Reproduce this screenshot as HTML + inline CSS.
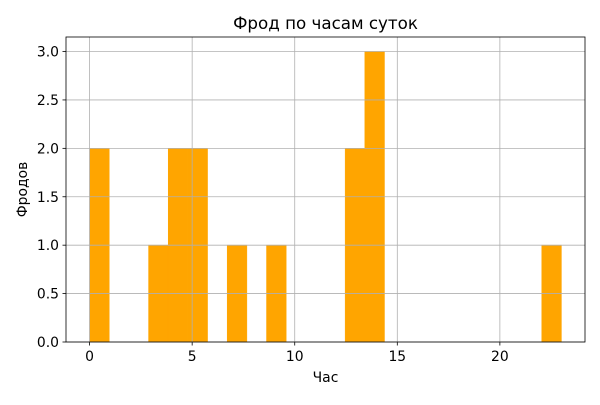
<!DOCTYPE html>
<html><head><meta charset="utf-8"><style>
body{margin:0;background:#fff;font-family:"Liberation Sans","DejaVu Sans",sans-serif;}
text{font-family:"DejaVu Sans","Liberation Sans",sans-serif;}
</style></head><body>
<svg id="c" width="600" height="400"></svg>
<script>
const binCounts=[2,0,0,1,2,2,0,1,0,1,0,0,0,2,3,0,0,0,0,0,0,0,0,1];
const dataMin=0, dataMax=23;
const xTicks=[0,5,10,15,20];
const yTicks=[0,0.5,1,1.5,2,2.5,3];
const yTickLabels=["0.0","0.5","1.0","1.5","2.0","2.5","3.0"];
const ns="http://www.w3.org/2000/svg";
const svg=document.getElementById('c');
const L=66,R=585,T=37,B=342;
const xmin=-1.15,xmax=24.15,ymax=3.15;
const X=v=>L+(v-xmin)/(xmax-xmin)*(R-L);
const Y=v=>B-v/ymax*(B-T);
function el(t,a,txt){const e=document.createElementNS(ns,t);for(const k in a)e.setAttribute(k,a[k]);if(txt!==undefined)e.textContent=txt;svg.appendChild(e);return e;}
const w=(dataMax-dataMin)/binCounts.length;
binCounts.forEach((c,i)=>{if(!c)return;
 const r=el('rect',{x:X(dataMin+i*w),y:Y(c),width:X(dataMin+(i+1)*w)-X(dataMin+i*w),height:B-Y(c),fill:'#ffa500',stroke:'#ffa500','stroke-width':0.5});
 
 
});
xTicks.forEach(t=>{
 const g=el('line',{x1:X(t),x2:X(t),y1:T,y2:B,stroke:'#b0b0b0','stroke-width':0.8});
 
 
 el('line',{x1:X(t),x2:X(t),y1:B,y2:B+3.5,stroke:'#000','stroke-width':0.8});
 const tx=el('text',{x:X(t),y:B+19,'font-size':13.9,'text-anchor':'middle'},String(t));
 
 
});
yTicks.forEach((t,i)=>{
 const g=el('line',{x1:L,x2:R,y1:Y(t),y2:Y(t),stroke:'#b0b0b0','stroke-width':0.8});
 
 
 el('line',{x1:L-3.5,x2:L,y1:Y(t),y2:Y(t),stroke:'#000','stroke-width':0.8});
 const tx=el('text',{x:L-7,y:Y(t)+5,'font-size':13.9,'text-anchor':'end'},yTickLabels[i]);
 
 
});
const f=el('rect',{x:L,y:T,width:R-L,height:B-T,fill:'none',stroke:'#000','stroke-width':0.8});


const ti=el('text',{x:(L+R)/2,y:29,'font-size':16.7,'text-anchor':'middle'},'Фрод по часам суток');


const xl=el('text',{x:(L+R)/2,y:382,'font-size':13.9,'text-anchor':'middle'},'Час');


const yl=el('text',{x:0,y:0,'font-size':13.9,'text-anchor':'middle',transform:'translate(27,'+((T+B)/2)+') rotate(-90)'},'Фродов');


</script>
</body></html>
